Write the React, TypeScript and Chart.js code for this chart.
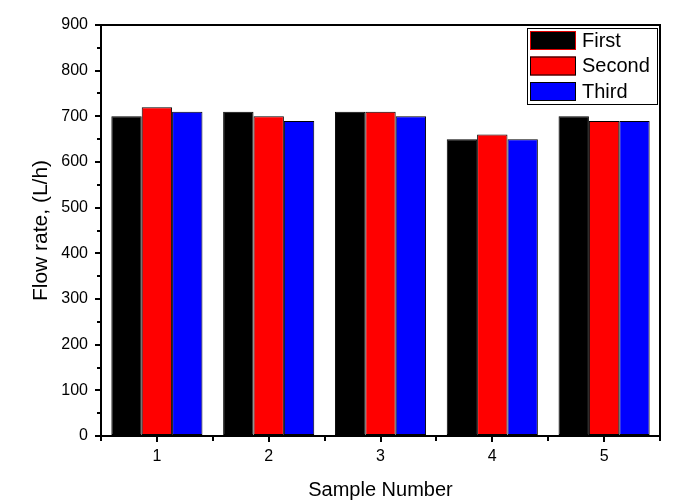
import React, { useEffect, useRef } from "react";
import { Chart, registerables } from "chart.js";

Chart.register(...registerables);

const categories = ["1", "2", "3", "4", "5"];
const firstValues = [700, 710, 710, 650, 700];
const secondValues = [720, 700, 710, 660, 690];
const thirdValues = [710, 690, 700, 650, 690];
const seriesLabels = ["First", "Second", "Third"];
const seriesColors = ["#000000", "#ff0000", "#0000ff"];
const yMin = 0;
const yMax = 900;
const yStep = 100;

const FONT = "'Liberation Sans', Arial, sans-serif";

const framePlugin = {
  id: "frameAndMinor",
  afterDraw(chart: any) {
    const { ctx, chartArea } = chart;
    const { left, right, top, bottom } = chartArea;
    const xs = chart.scales.x;
    const ys = chart.scales.y;
    ctx.save();
    ctx.strokeStyle = "#000";
    ctx.lineWidth = 2;
    ctx.beginPath();
    ctx.moveTo(left, top);
    ctx.lineTo(right, top);
    ctx.lineTo(right, bottom);
    ctx.stroke();
    ctx.beginPath();
    for (let v = yMin + yStep / 2; v < yMax; v += yStep) {
      const y = Math.round(ys.getPixelForValue(v));
      ctx.moveTo(left - 4, y);
      ctx.lineTo(left, y);
    }
    const n = categories.length;
    for (let i = 0; i <= n; i++) {
      let x;
      if (i === 0) x = left;
      else if (i === n) x = right;
      else x = (xs.getPixelForValue(i - 1) + xs.getPixelForValue(i)) / 2;
      x = Math.round(x);
      ctx.moveTo(x, bottom);
      ctx.lineTo(x, bottom + 5);
    }
    ctx.stroke();

    const bx = 527.5, by = 28.5, bw = 130, bh = 76;
    ctx.lineWidth = 1;
    ctx.fillStyle = "#fff";
    ctx.fillRect(bx, by, bw, bh);
    ctx.strokeStyle = "#000";
    ctx.strokeRect(bx, by, bw, bh);
    ctx.font = `20px ${FONT}`;
    ctx.textBaseline = "middle";
    ctx.textAlign = "left";
    chart.data.datasets.forEach((ds: any, i: number) => {
      const sy = 31 + i * 25.5;
      ctx.fillStyle = ds.backgroundColor;
      ctx.fillRect(530, sy, 46, 19);
      ctx.strokeStyle = i === 0 ? "#e00000" : "#000";
      ctx.strokeRect(530.5, sy + 0.5, 45, 18);
      ctx.fillStyle = "#000";
      ctx.fillText(ds.label, 582, sy + 10);
    });
    ctx.restore();
  },
};

export default function App() {
  const ref = useRef<HTMLCanvasElement>(null);
  useEffect(() => {
    document.body.style.margin = "0";
    const values = [firstValues, secondValues, thirdValues];
    const chart = new Chart(ref.current as HTMLCanvasElement, {
      type: "bar",
      data: {
        labels: categories,
        datasets: values.map((vals, i) => ({
          label: seriesLabels[i],
          data: vals,
          backgroundColor: seriesColors[i],
          borderColor: "#000",
          borderWidth: 1,
          borderSkipped: false,
          categoryPercentage: 0.815,
          barPercentage: 1,
        })),
      },
      options: {
        responsive: false,
        animation: false,
        layout: { padding: { left: 0, right: 26, top: 25, bottom: 0 } },
        plugins: { legend: { display: false }, tooltip: { enabled: false } },
        scales: {
          x: {
            offset: true,
            grid: {
              offset: false,
              drawOnChartArea: false,
              drawTicks: true,
              tickLength: 6,
              color: "#000",
              lineWidth: 2,
            },
            border: { display: true, color: "#000", width: 2 },
            ticks: { color: "#000", font: { family: FONT, size: 16 }, padding: 5 },
            title: {
              display: true,
              text: "Sample Number",
              color: "#000",
              font: { family: FONT, size: 20 },
              padding: { top: 0, bottom: 0 },
            },
            afterFit(scale: any) {
              scale.height = 66;
            },
          },
          y: {
            min: yMin,
            max: yMax,
            ticks: {
              stepSize: yStep,
              color: "#000",
              font: { family: FONT, size: 16 },
              padding: 7,
            },
            grid: {
              drawOnChartArea: false,
              drawTicks: true,
              tickLength: 6,
              color: "#000",
              lineWidth: 2,
            },
            border: { display: true, color: "#000", width: 2 },
            title: {
              display: true,
              text: "Flow rate, (L/h)",
              color: "#000",
              font: { family: FONT, size: 21 },
              padding: { top: 28.5, bottom: 0 },
            },
            afterFit(scale: any) {
              scale.width = 101;
            },
          },
        },
      },
      plugins: [framePlugin],
    } as any);
    return () => chart.destroy();
  }, []);
  return (
    <div style={{ width: 686, height: 502 }}>
      <canvas ref={ref} width={686} height={502} />
    </div>
  );
}
